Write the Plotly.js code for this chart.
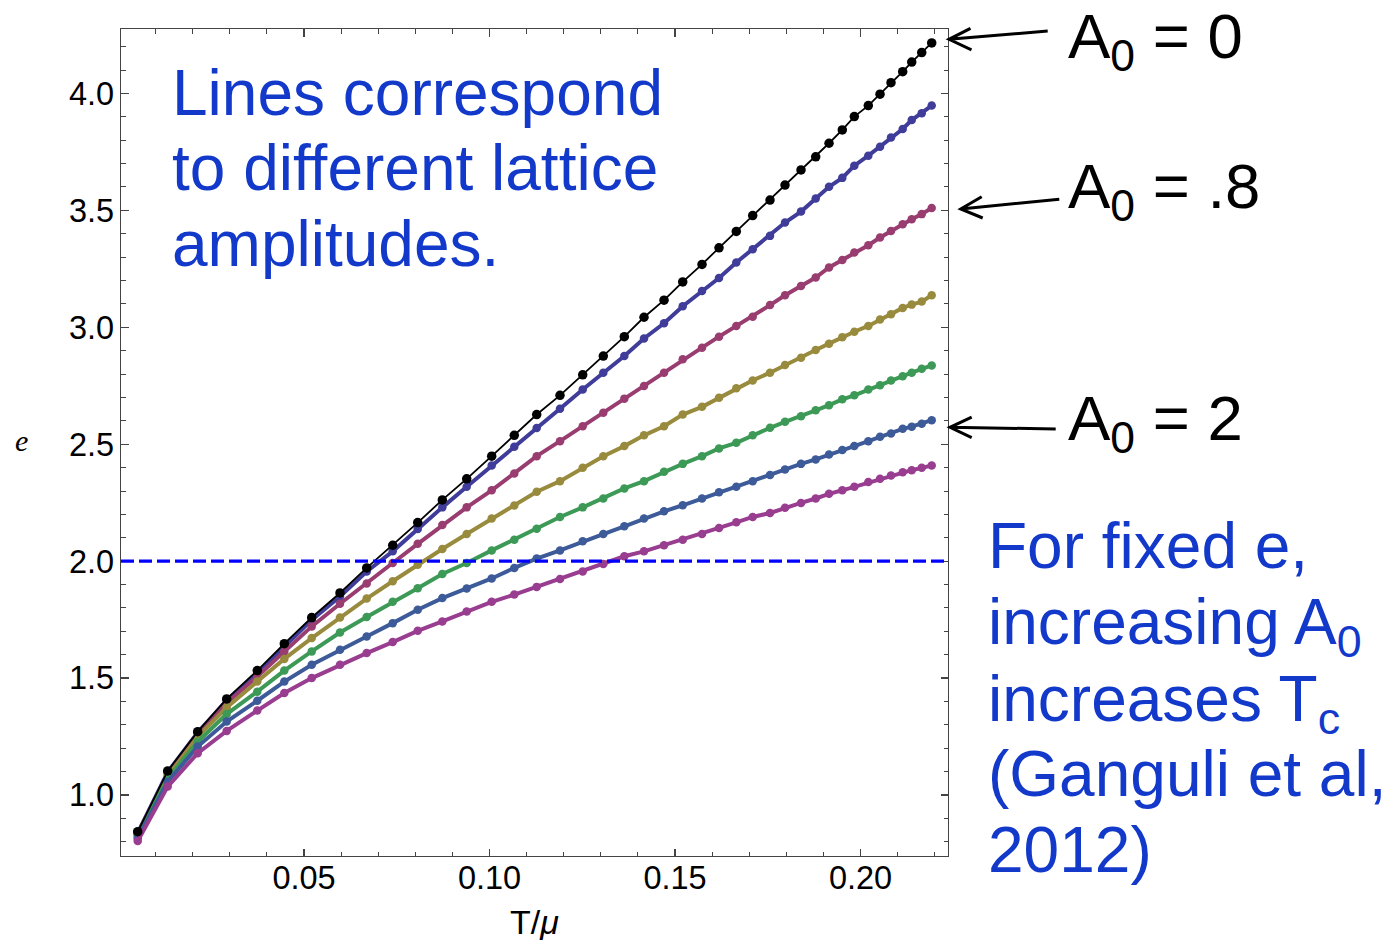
<!DOCTYPE html>
<html>
<head>
<meta charset="utf-8">
<script src="https://cdn.plot.ly/plotly-3.0.1.min.js"></script>
<style>
  html, body { margin: 0; padding: 0; background: #ffffff; }
  #chart { width: 1388px; height: 941px; }
</style>
</head>
<body>
<div id="chart"></div>
<script>
// ---------------- data ----------------
const T_over_mu = [0.00518, 0.01326, 0.02135, 0.02916, 0.03741, 0.04469, 0.05208, 0.05970, 0.06690, 0.07391,
                   0.08065, 0.08728, 0.09385, 0.10059, 0.10668, 0.11272, 0.11900, 0.12512, 0.13067, 0.13634,
                   0.14164, 0.14704, 0.15208, 0.15728, 0.16186, 0.16652, 0.17094, 0.17561, 0.17965, 0.18396,
                   0.18792, 0.19151, 0.19509, 0.19833, 0.20210, 0.20526, 0.20822, 0.21137, 0.21380, 0.21650,
                   0.21919];

const e_A0_0   = [0.843, 1.103, 1.271, 1.411, 1.532, 1.647, 1.759, 1.864, 1.971, 2.068,
                  2.165, 2.262, 2.352, 2.449, 2.538, 2.627, 2.709, 2.797, 2.877, 2.960,
                  3.043, 3.116, 3.194, 3.269, 3.340, 3.410, 3.478, 3.544, 3.608, 3.673,
                  3.729, 3.787, 3.844, 3.901, 3.948, 3.997, 4.046, 4.093, 4.134, 4.175,
                  4.216];
const e_A0_0_4 = [0.838, 1.098, 1.267, 1.404, 1.521, 1.635, 1.749, 1.849, 1.956, 2.042,
                  2.138, 2.230, 2.318, 2.409, 2.489, 2.569, 2.652, 2.734, 2.806, 2.877,
                  2.952, 3.017, 3.090, 3.155, 3.211, 3.277, 3.334, 3.391, 3.448, 3.495,
                  3.551, 3.601, 3.639, 3.691, 3.734, 3.772, 3.812, 3.848, 3.886, 3.915,
                  3.948];
const e_A0_0_8 = [0.835, 1.090, 1.262, 1.393, 1.507, 1.614, 1.721, 1.818, 1.904, 1.992,
                  2.074, 2.155, 2.230, 2.303, 2.375, 2.449, 2.513, 2.577, 2.635, 2.695,
                  2.749, 2.806, 2.863, 2.913, 2.960, 3.006, 3.045, 3.095, 3.137, 3.177,
                  3.213, 3.256, 3.288, 3.320, 3.351, 3.384, 3.412, 3.441, 3.462, 3.484,
                  3.510];
const e_A0_1_2 = [0.830, 1.080, 1.250, 1.374, 1.485, 1.582, 1.671, 1.759, 1.840, 1.914,
                  1.985, 2.052, 2.116, 2.182, 2.238, 2.297, 2.342, 2.399, 2.449, 2.492,
                  2.538, 2.577, 2.627, 2.660, 2.699, 2.739, 2.773, 2.806, 2.839, 2.870,
                  2.903, 2.930, 2.958, 2.981, 3.006, 3.033, 3.056, 3.083, 3.097, 3.110,
                  3.137];
const e_A0_1_6 = [0.825, 1.071, 1.228, 1.346, 1.442, 1.532, 1.614, 1.695, 1.761, 1.826,
                  1.884, 1.945, 1.992, 2.046, 2.092, 2.139, 2.189, 2.230, 2.268, 2.311,
                  2.342, 2.382, 2.416, 2.449, 2.482, 2.506, 2.538, 2.570, 2.596, 2.620,
                  2.645, 2.667, 2.692, 2.709, 2.734, 2.752, 2.773, 2.791, 2.806, 2.823,
                  2.837];
const e_A0_2_0 = [0.815, 1.057, 1.207, 1.314, 1.403, 1.485, 1.557, 1.621, 1.678, 1.735,
                  1.792, 1.842, 1.883, 1.926, 1.971, 2.011, 2.046, 2.085, 2.116, 2.149,
                  2.182, 2.213, 2.239, 2.268, 2.295, 2.318, 2.342, 2.368, 2.392, 2.416,
                  2.435, 2.456, 2.475, 2.492, 2.513, 2.532, 2.546, 2.566, 2.575, 2.588,
                  2.603];
const e_A0_2_4 = [0.803, 1.036, 1.179, 1.274, 1.361, 1.436, 1.500, 1.557, 1.607, 1.654,
                  1.702, 1.742, 1.785, 1.826, 1.857, 1.890, 1.924, 1.956, 1.988, 2.021,
                  2.042, 2.068, 2.092, 2.116, 2.142, 2.166, 2.189, 2.206, 2.228, 2.249,
                  2.268, 2.288, 2.303, 2.318, 2.338, 2.352, 2.366, 2.380, 2.389, 2.399,
                  2.409];

const seriesNames = ["A0 = 0.4", "A0 = 0.8", "A0 = 1.2", "A0 = 1.6", "A0 = 2", "A0 = 2.4"];
const seriesValues = [e_A0_0_4, e_A0_0_8, e_A0_1_2, e_A0_1_6, e_A0_2_0, e_A0_2_4];
const fixedE = 2.0;

const xTickFormat = ".2f";
const yTickFormat = ".1f";

// ---------------- styling ----------------
const seriesColors = ["#3f3d99", "#993d71", "#998b3d", "#3d9956", "#3d5a99", "#993d90"];
const blueText = "#1239c9";
const frameColor = "#444444";

// plot-area pixel box (used only to place decorations)
const PX0 = 121, PX1 = 948, PY0 = 29, PY1 = 856;
const W = 1388, H = 941;
function px(x) { return (x - PX0) / (PX1 - PX0); }
function py(y) { return (PY1 - y) / (PY1 - PY0); }

const traces = [];
seriesValues.forEach((vals, i) => {
  traces.push({
    type: "scatter", mode: "lines+markers", name: seriesNames[i],
    x: T_over_mu, y: vals,
    line: { color: seriesColors[i], width: 4 },
    marker: { color: seriesColors[i], size: 8.5 },
    hoverinfo: "x+y+name"
  });
});
traces.push({
  type: "scatter", mode: "lines+markers", name: "A0 = 0",
  x: T_over_mu, y: e_A0_0,
  line: { color: "#000000", width: 1.8 },
  marker: { color: "#000000", size: 9.5 },
  hoverinfo: "x+y+name"
});

// ---------------- text annotations ----------------
const F1 = 64;   // blue body text
const F2 = 63.5; // A0 labels
const textLines = [
  // [text, left px, baseline px, size, color, hasSub]
  ["Lines correspond",      170, 115,   F1, blueText, false],
  ["to different lattice",  170, 190.5, F1, blueText, false],
  ["amplitudes.",           170, 266,   F1, blueText, false],
  ["For fixed e,",          986, 567.7, F1, blueText, false],
  ["increasing A<sub>0</sub>", 986, 643.9, F1, blueText, true],
  ["increases T<sub>c</sub>",  986, 720.1, F1, blueText, true],
  ["(Ganguli et al,",       986, 796.3, F1, blueText, false],
  ["2012)",                 986, 872.5, F1, blueText, false],
  ["A<sub>0</sub> = 0",     1066, 57.5,  F2, "#000000", true],
  ["A<sub>0</sub> = .8",    1066, 208.3, F2, "#000000", true],
  ["A<sub>0</sub> = 2",     1066, 440,   F2, "#000000", true]
];

const annotations = textLines.map(([t, lx, base, size, color, sub]) => ({
  xref: "paper", yref: "paper",
  x: px(lx), y: py(base - (sub ? 0.273 : 0.3465) * size),
  xanchor: "left", yanchor: "middle",
  text: t, showarrow: false, align: "left",
  font: { family: "Liberation Sans, Arial, sans-serif", size: size, color: color }
}));

// y-axis label (horizontal italic e)
annotations.push({
  xref: "paper", yref: "paper", x: px(21), y: py(440),
  xanchor: "center", yanchor: "middle", showarrow: false,
  text: "<i>e</i>",
  font: { family: "Liberation Serif, Times New Roman, serif", size: 30, color: "#000" }
});

// ---------------- arrows (open chevron heads) ----------------
const arrows = [
  // tail, head, arm1, arm2 (pixels)
  [[1047.7, 31], [949, 39.3], [970.5, 28.3], [971.5, 49.8]],
  [[1059.3, 199.3], [960.7, 209], [981.7, 196.7], [982.7, 218]],
  [[1055.7, 429], [950, 427.3], [971.7, 417.2], [971.7, 437.7]]
];
function P(p) { return px(p[0]).toFixed(5) + "," + py(p[1]).toFixed(5); }
const shapes = arrows.map(([tail, head, a1, a2]) => ({
  type: "path", xref: "paper", yref: "paper",
  path: "M" + P(tail) + " L" + P(head) + " M" + P(a1) + " L" + P(head) + " L" + P(a2),
  line: { color: "#000000", width: 3 }
}));
shapes.push({
  type: "line", xref: "paper", yref: "y", x0: 0, x1: 1, y0: fixedE, y1: fixedE,
  line: { color: "#0000ff", width: 3.2, dash: "13px,5px" }, layer: "above"
});

// ---------------- axes ----------------
const tickFont = { family: "Liberation Sans, Arial, sans-serif", size: 32.5, color: "#000" };
const layout = {
  width: W, height: H,
  margin: { l: PX0, r: W - PX1, t: PY0, b: H - PY1, pad: 0 },
  paper_bgcolor: "#ffffff", plot_bgcolor: "#ffffff",
  showlegend: false,
  xaxis: {
    range: [0.000674, 0.22358], tick0: 0, dtick: 0.05, tickformat: xTickFormat,
    ticks: "inside", ticklen: 7.5, tickwidth: 1.2, tickcolor: frameColor,
    showline: true, linecolor: frameColor, linewidth: 1.3, mirror: "ticks",
    showgrid: false, zeroline: false, tickfont: tickFont, ticklabelstandoff: -7,
    minor: { ticks: "inside", ticklen: 4.5, tickwidth: 1, tickcolor: frameColor, dtick: 0.01, tick0: 0, showgrid: false },
    title: { text: "T/<i>μ</i>", font: { family: "Liberation Sans, Arial, sans-serif", size: 34, color: "#000" }, standoff: 16 }
  },
  yaxis: {
    range: [0.7392, 4.2756], tick0: 0, dtick: 0.5, tickformat: yTickFormat,
    ticks: "inside", ticklen: 7.5, tickwidth: 1.2, tickcolor: frameColor,
    showline: true, linecolor: frameColor, linewidth: 1.3, mirror: "ticks",
    showgrid: false, zeroline: false, tickfont: tickFont, ticklabelstandoff: -1,
    minor: { ticks: "inside", ticklen: 4.5, tickwidth: 1, tickcolor: frameColor, dtick: 0.1, tick0: 0, showgrid: false }
  },
  annotations: annotations,
  shapes: shapes
};

Plotly.newPlot("chart", traces, layout, { displayModeBar: false, staticPlot: true });
</script>
</body>
</html>
